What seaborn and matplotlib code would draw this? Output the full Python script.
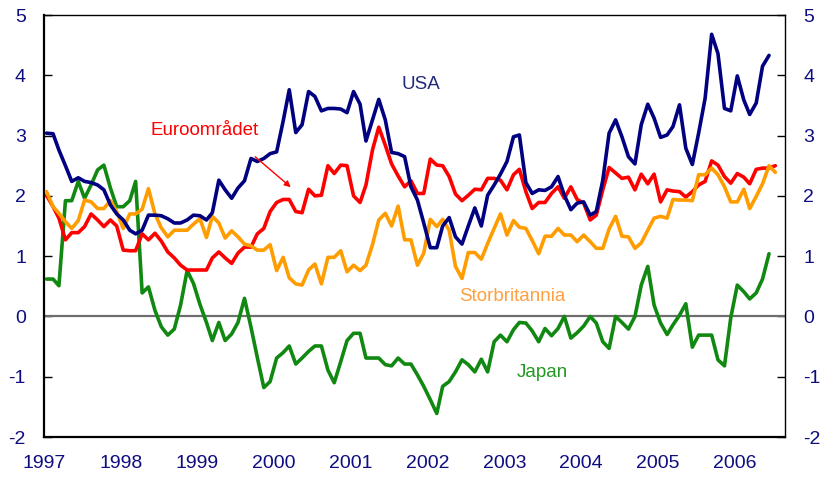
import numpy as np
import pandas as pd
import matplotlib
matplotlib.use("Agg")
import matplotlib.pyplot as plt
import seaborn as sns

# Monthly inflation (percent), starting January 1997
usa = [3.04, 3.03, 2.76, 2.50, 2.24, 2.30, 2.24, 2.22, 2.18, 2.10, 1.85, 1.70,
       1.60, 1.43, 1.37, 1.43, 1.68, 1.68, 1.67, 1.62, 1.55, 1.55, 1.60, 1.68,
       1.67, 1.60, 1.72, 2.26, 2.10, 1.96, 2.13, 2.25, 2.62, 2.57, 2.62, 2.70,
       2.73, 3.24, 3.76, 3.05, 3.18, 3.73, 3.65, 3.41, 3.45, 3.45, 3.44, 3.38,
       3.73, 3.52, 2.91, 3.26, 3.60, 3.26, 2.72, 2.70, 2.65, 2.15, 1.93, 1.55,
       1.14, 1.14, 1.50, 1.64, 1.32, 1.20, 1.50, 1.80, 1.50, 2.01, 2.18, 2.36,
       2.57, 2.98, 3.01, 2.22, 2.04, 2.10, 2.09, 2.15, 2.32, 2.01, 1.77, 1.88,
       1.90, 1.68, 1.74, 2.26, 3.04, 3.26, 2.98, 2.65, 2.53, 3.18, 3.52, 3.29,
       2.97, 3.01, 3.15, 3.51, 2.79, 2.52, 3.04, 3.62, 4.68, 4.36, 3.45, 3.41,
       3.99, 3.59, 3.35, 3.54, 4.15, 4.33]

euro = [2.01, 1.82, 1.63, 1.27, 1.39, 1.39, 1.49, 1.70, 1.60, 1.49, 1.60, 1.50,
        1.10, 1.09, 1.09, 1.37, 1.27, 1.38, 1.25, 1.07, 0.97, 0.85, 0.77, 0.77,
        0.77, 0.77, 0.97, 1.07, 0.97, 0.88, 1.05, 1.15, 1.15, 1.37, 1.46, 1.74,
        1.89, 1.94, 1.94, 1.74, 1.72, 2.11, 2.00, 2.01, 2.50, 2.37, 2.51, 2.50,
        2.00, 1.89, 2.18, 2.76, 3.14, 2.84, 2.53, 2.33, 2.15, 2.25, 2.04, 2.04,
        2.61, 2.51, 2.50, 2.32, 2.03, 1.92, 2.01, 2.11, 2.10, 2.29, 2.29, 2.26,
        2.10, 2.35, 2.44, 2.07, 1.79, 1.89, 1.89, 2.04, 2.15, 1.96, 2.15, 1.94,
        1.88, 1.60, 1.68, 2.10, 2.47, 2.38, 2.29, 2.31, 2.10, 2.36, 2.20, 2.36,
        1.90, 2.10, 2.08, 2.07, 1.98, 2.07, 2.18, 2.24, 2.58, 2.51, 2.32, 2.21,
        2.37, 2.31, 2.20, 2.44, 2.46, 2.46, 2.50]

uk = [2.07, 1.82, 1.71, 1.57, 1.46, 1.59, 1.93, 1.90, 1.79, 1.79, 1.92, 1.74,
      1.46, 1.70, 1.70, 1.78, 2.12, 1.70, 1.47, 1.32, 1.43, 1.43, 1.43, 1.53,
      1.62, 1.31, 1.66, 1.55, 1.30, 1.42, 1.32, 1.20, 1.17, 1.10, 1.10, 1.19,
      0.76, 0.98, 0.64, 0.54, 0.52, 0.77, 0.87, 0.54, 0.98, 0.98, 1.09, 0.74,
      0.85, 0.76, 0.85, 1.19, 1.60, 1.71, 1.50, 1.83, 1.27, 1.27, 0.85, 1.05,
      1.61, 1.49, 1.61, 1.43, 0.83, 0.63, 1.06, 1.06, 0.95, 1.21, 1.46, 1.70,
      1.35, 1.59, 1.48, 1.46, 1.26, 1.04, 1.33, 1.33, 1.46, 1.35, 1.35, 1.24,
      1.35, 1.24, 1.13, 1.13, 1.45, 1.66, 1.33, 1.32, 1.13, 1.22, 1.43, 1.63,
      1.66, 1.63, 1.94, 1.93, 1.93, 1.92, 2.35, 2.35, 2.46, 2.35, 2.15, 1.90,
      1.90, 2.11, 1.79, 1.99, 2.20, 2.50, 2.39]

japan = [0.62, 0.62, 0.51, 1.92, 1.92, 2.24, 1.96, 2.18, 2.43, 2.51, 2.13, 1.82,
         1.82, 1.92, 2.24, 0.39, 0.49, 0.10, -0.17, -0.31, -0.21, 0.19, 0.76, 0.55,
         0.20, -0.10, -0.40, -0.10, -0.40, -0.29, -0.10, 0.30, -0.18, -0.68, -1.18, -1.08,
         -0.69, -0.60, -0.49, -0.79, -0.69, -0.58, -0.49, -0.49, -0.89, -1.10, -0.75, -0.40,
         -0.28, -0.28, -0.69, -0.69, -0.69, -0.80, -0.82, -0.69, -0.79, -0.79, -0.97, -1.16,
         -1.38, -1.61, -1.16, -1.08, -0.92, -0.72, -0.80, -0.92, -0.71, -0.92, -0.42, -0.31,
         -0.42, -0.22, -0.10, -0.11, -0.24, -0.42, -0.20, -0.32, -0.20, 0.00, -0.36, -0.27,
         -0.16, 0.00, -0.11, -0.42, -0.53, 0.00, -0.10, -0.21, 0.00, 0.52, 0.83, 0.19,
         -0.11, -0.30, -0.14, 0.02, 0.21, -0.51, -0.31, -0.31, -0.31, -0.72, -0.82, -0.02,
         0.52, 0.41, 0.29, 0.39, 0.62, 1.04]

series = {"Japan": japan, "Euroområdet": euro, "Storbritannia": uk, "USA": usa}
colors = {"USA": "#000080", "Euroområdet": "#ff0000",
          "Storbritannia": "#ff9d00", "Japan": "#118811"}
year_ticks = list(range(1997, 2007))
y_ticks = [-2, -1, 0, 1, 2, 3, 4, 5]

frames = []
for name, vals in series.items():
    dates = pd.date_range("1997-01-01", periods=len(vals), freq="MS") + pd.Timedelta(days=12)
    frames.append(pd.DataFrame({"date": dates, "value": vals, "series": name}))
df = pd.concat(frames, ignore_index=True)

sns.set_style("white")
plt.rcParams["font.family"] = ["Liberation Sans", "DejaVu Sans"]

fig = plt.figure(figsize=(8.21, 4.82), dpi=100)
ax = fig.add_axes([44 / 821, 1 - 437 / 482, 741 / 821, 422 / 482])

ax.axhline(0, color="#6e6e6e", lw=1.6, zorder=1)
sns.lineplot(data=df, x="date", y="value", hue="series",
             hue_order=list(series.keys()), palette=colors,
             linewidth=2.6, legend=False, ax=ax, zorder=3)

ax.set_xlim(pd.Timestamp("1997-01-01"), pd.Timestamp("2006-08-28"))
ax.set_ylim(-2, 5)
ax.set_xticks([pd.Timestamp(f"{y}-01-01") for y in year_ticks])
ax.set_xticklabels([str(y) for y in year_ticks])
ax.set_yticks(y_ticks)
ax.set_yticklabels([str(v) for v in y_ticks])
ax.set_xlabel("")
ax.set_ylabel("")

ax.tick_params(axis="x", direction="in", length=6, width=1, color="black",
               labelsize=14, labelcolor="#0d0d80", pad=13)
ax.tick_params(axis="y", direction="in", length=6, width=1, color="black",
               labelsize=14, labelcolor="#0d0d80", pad=13,
               left=True, right=True, labelleft=True, labelright=True)

for side in ["left", "bottom"]:
    ax.spines[side].set_linewidth(1.6)
    ax.spines[side].set_color("black")
for side in ["top", "right"]:
    ax.spines[side].set_linewidth(1.0)
    ax.spines[side].set_color("black")
ax.grid(False)

ax.text(0.509, 0.836, "USA", transform=ax.transAxes, color="#1f2a78",
        fontsize=13.5, ha="center", va="center")
ax.text(0.217, 0.727, "Euroområdet", transform=ax.transAxes, color="#ff0000",
        fontsize=13.5, ha="center", va="center")
ax.text(0.632, 0.334, "Storbritannia", transform=ax.transAxes, color="#ffa040",
        fontsize=13.5, ha="center", va="center")
ax.text(0.673, 0.154, "Japan", transform=ax.transAxes, color="#229922",
        fontsize=13.5, ha="center", va="center")
ax.annotate("", xy=(0.333, 0.592), xytext=(0.285, 0.664),
            xycoords="axes fraction", textcoords="axes fraction",
            arrowprops=dict(arrowstyle="-|>", color="#ff0000", lw=1.0,
                            mutation_scale=9, shrinkA=0, shrinkB=0))

fig.savefig("out.png", dpi=100)
